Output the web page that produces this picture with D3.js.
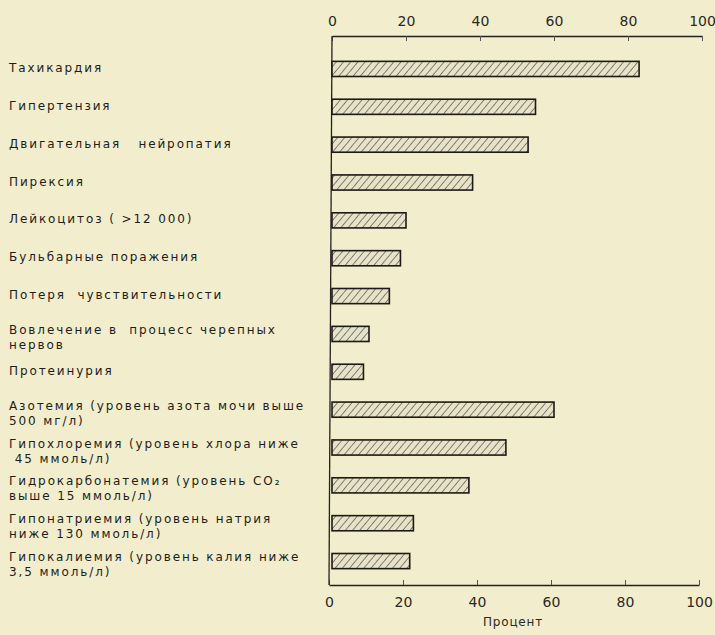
<!DOCTYPE html>
<html lang="ru">
<head>
<meta charset="utf-8">
<script src="https://cdn.jsdelivr.net/npm/d3@7"></script>
<style>
  html, body { margin: 0; padding: 0; background: #f2eecd; }
  svg { display: block; }
  .lbl { font-family: "DejaVu Sans", sans-serif; font-size: 12px; fill: #1e1c18; letter-spacing: 1.9px; white-space: pre; }
  .tick text { font-family: "DejaVu Sans", sans-serif; font-size: 14px; fill: #2a2824; }
  .axis-title { font-family: "DejaVu Sans", sans-serif; font-size: 12px; fill: #2a2824; letter-spacing: 0.8px; }
</style>
</head>
<body>
<svg id="chart" width="715" height="635"></svg>
<script>
// Clinical signs, each label split into its printed lines
const categories = [
  ["Тахикардия"],
  ["Гипертензия"],
  ["Двигательная   нейропатия"],
  ["Пирексия"],
  ["Лейкоцитоз ( >12 000)"],
  ["Бульбарные поражения"],
  ["Потеря  чувствительности"],
  ["Вовлечение в  процесс черепных", "нервов"],
  ["Протеинурия"],
  ["Азотемия (уровень азота мочи выше", "500 мг/л)"],
  ["Гипохлоремия (уровень хлора ниже", " 45 ммоль/л)"],
  ["Гидрокарбонатемия (уровень CO₂", "выше 15 ммоль/л)"],
  ["Гипонатриемия (уровень натрия", "ниже 130 ммоль/л)"],
  ["Гипокалиемия (уровень калия ниже", "3,5 ммоль/л)"]
];
// Share of patients, %
const values = [83, 55, 53, 38, 20, 18.5, 15.5, 10, 8.5, 60, 47, 37, 22, 21];
const tickValues = [0, 20, 40, 60, 80, 100];
const axisTitle = "Процент";

const svg = d3.select("#chart");

const x = d3.scaleLinear().domain([0, 100]).range([332, 702]);
const y = d3.scaleBand()
  .domain(d3.range(categories.length))
  .range([50, 580])
  .paddingInner(0.6)
  .paddingOuter(0.3);

const topY = 36, bottomY = 585;

// diagonal hatching used to fill the bars
const defs = svg.append("defs");
const pat = defs.append("pattern")
  .attr("id", "hatch")
  .attr("patternUnits", "userSpaceOnUse")
  .attr("width", 5.5).attr("height", 5.5)
  .attr("patternTransform", "rotate(40)");
pat.append("rect").attr("width", 5.5).attr("height", 5.5).attr("fill", "#e6e3c8");
pat.append("line")
  .attr("x1", 0).attr("y1", 0).attr("x2", 0).attr("y2", 5.5)
  .attr("stroke", "#4a4840").attr("stroke-width", 1.3);

// top axis
const topAxis = d3.axisTop(x).tickValues(tickValues)
  .tickSizeInner(-5).tickSizeOuter(0).tickPadding(10);
svg.append("g").attr("transform", `translate(0,${topY})`).call(topAxis)
  .call(g => g.select(".domain").attr("stroke", "#222").attr("stroke-width", 1.3))
  .call(g => g.selectAll(".tick line").attr("stroke", "#555").attr("stroke-width", 1));

// bottom axis
const bottomAxis = d3.axisBottom(x).tickValues(tickValues)
  .tickSizeInner(-5).tickSizeOuter(0).tickPadding(12);
svg.append("g").attr("transform", `translate(-3,${bottomY})`).call(bottomAxis)
  .call(g => g.select(".domain").attr("stroke", "#222").attr("stroke-width", 1.3))
  .call(g => g.selectAll(".tick line").attr("stroke", "#555").attr("stroke-width", 1));

// vertical baseline at zero
svg.append("line")
  .attr("x1", x(0)).attr("x2", x(0) - 3)
  .attr("y1", topY).attr("y2", bottomY)
  .attr("stroke", "#222").attr("stroke-width", 1.3);

// bars
svg.append("g").selectAll("rect")
  .data(values)
  .join("rect")
  .attr("x", x(0))
  .attr("y", (d, i) => y(i))
  .attr("width", d => x(d) - x(0))
  .attr("height", y.bandwidth())
  .attr("fill", "url(#hatch)")
  .attr("stroke", "#1c1a16")
  .attr("stroke-width", 1.6);

// category labels
const lineH = 15;
const lg = svg.append("g");
categories.forEach((lines, i) => {
  const cy = y(i) + y.bandwidth() / 2;
  const first = lines.length === 1 ? cy - 1 : cy - 4;
  const t = lg.append("text").attr("class", "lbl")
    .attr("x", 9).attr("y", first).attr("dominant-baseline", "middle");
  lines.forEach((s, k) => {
    t.append("tspan").attr("x", 9).attr("y", first + k * lineH)
      .attr("dominant-baseline", "middle").text(s);
  });
});

// axis title
svg.append("text").attr("class", "axis-title")
  .attr("x", 513).attr("y", 622)
  .attr("text-anchor", "middle").attr("dominant-baseline", "middle")
  .text(axisTitle);
</script>
</body>
</html>
